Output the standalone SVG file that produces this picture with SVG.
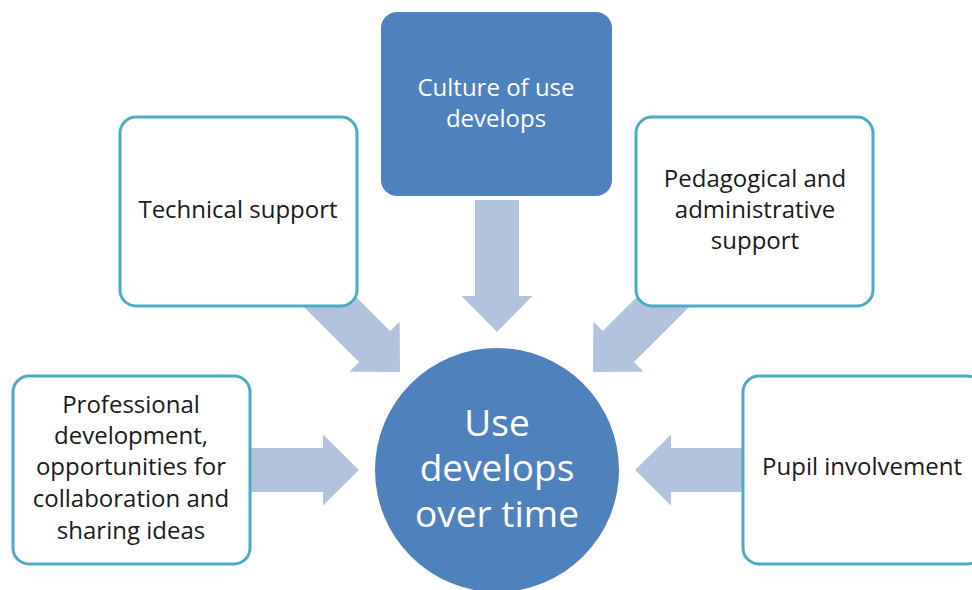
<svg xmlns="http://www.w3.org/2000/svg" width="972" height="590" viewBox="0 0 972 590">
<defs>
<style>
.box{fill:#ffffff;stroke:#4bacc6;stroke-width:3}
.dark{fill:#4f81bd}
.arr{fill:#b3c2dd}
.t{font-family:"Open Sans",Lato,sans-serif;font-size:24px;fill:#1a1a1a;text-anchor:middle}
.w{fill:#ffffff}
.big{font-size:37px}
</style>
<path id="arrowShape" d="M-132,-22 L-36,-22 L-36,-35.5 L0,0 L-36,35.5 L-36,22 L-132,22 Z"/>
</defs>
<g id="connectors">
<use href="#arrowShape" class="arr" transform="translate(497,332) rotate(90)"/>
<use href="#arrowShape" class="arr" transform="translate(400,372) rotate(45)"/>
<use href="#arrowShape" class="arr" transform="translate(593,372) rotate(135)"/>
<use href="#arrowShape" class="arr" transform="translate(359,470)"/>
<use href="#arrowShape" class="arr" transform="translate(635,470) rotate(180)"/>
</g>
<g id="culture">
<rect class="dark" x="381" y="12" width="231" height="184" rx="16"/>
<text class="t w" x="496" y="96">Culture of use</text>
<text class="t w" x="496" y="127">develops</text>
</g>
<g id="technical">
<rect class="box" x="120" y="117" width="237" height="189" rx="16"/>
<text class="t" x="238" y="218">Technical support</text>
</g>
<g id="pedagogical">
<rect class="box" x="636" y="117" width="237" height="189" rx="16"/>
<text class="t" x="755" y="187">Pedagogical and</text>
<text class="t" x="755" y="218">administrative</text>
<text class="t" x="755" y="249">support</text>
</g>
<g id="professional">
<rect class="box" x="13" y="376" width="237" height="188" rx="16"/>
<text class="t" x="131" y="413">Professional</text>
<text class="t" x="131" y="444">development,</text>
<text class="t" x="131" y="475">opportunities for</text>
<text class="t" x="131" y="507">collaboration and</text>
<text class="t" x="131" y="539">sharing ideas</text>
</g>
<g id="pupil">
<rect class="box" x="743" y="376" width="240" height="188" rx="16"/>
<text class="t" x="862" y="475">Pupil involvement</text>
</g>
<g id="center">
<circle class="dark" cx="497" cy="470" r="122"/>
<text class="t w big" x="497" y="436">Use</text>
<text class="t w big" x="497" y="481">develops</text>
<text class="t w big" x="497" y="527">over time</text>
</g>
</svg>
